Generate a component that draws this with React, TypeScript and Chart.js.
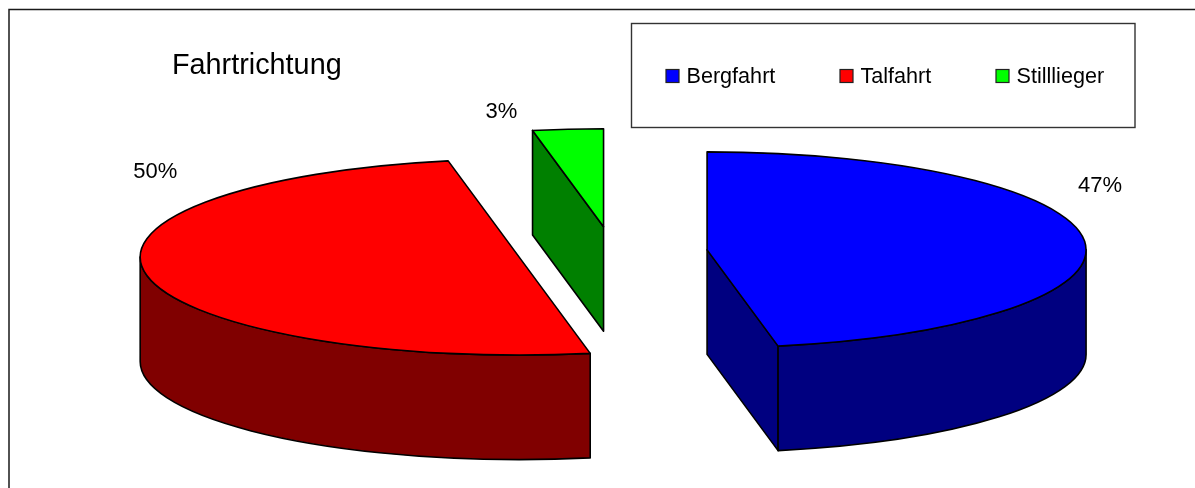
import React, { useEffect, useRef } from "react";
import { Chart, registerables } from "chart.js";

Chart.register(...registerables);

// Share of vessels per direction of travel, in percent.
const categories = ["Bergfahrt", "Talfahrt", "Stilllieger"];
const shares = [47, 50, 3];

const topColors = ["#0000ff", "#ff0000", "#00ff00"];
const sideColors = ["#000080", "#800000", "#008000"];

const WIDTH = 1195;
const HEIGHT = 488;
const FONT = '"Liberation Sans", Arial, sans-serif';

// Projection of the tilted pie: ellipse radii, wall height, explosion distance.
const RADIUS_X = 379;
const RADIUS_Y = 98;
const DEPTH = 104.5;
const EXPLODE_X = 95;
const EXPLODE_Y = 25.7;

// Percent label anchors, relative to each slice's own centre.
const labelShift = [
  [371, -58],
  [-386, -79],
  [-118, -109],
];
const legendSwatchX = [666, 840, 996];

const pie3d = {
  id: "pie3d",
  beforeDatasetDraw(chart: any) {
    const ctx: CanvasRenderingContext2D = chart.ctx;
    const arcs = chart.getDatasetMeta(0).data;
    const total = shares.reduce((a, b) => a + b, 0);

    ctx.save();
    ctx.lineJoin = "round";
    ctx.lineWidth = 1.6;
    ctx.strokeStyle = "#000";

    arcs.forEach((arc: any, i: number) => {
      const { x, y, startAngle: a, endAngle: b } = arc.getProps(["x", "y", "startAngle", "endAngle"], true);
      const mid = (a + b) / 2;
      const cx = x + Math.cos(mid) * EXPLODE_X;
      const cy = y + Math.sin(mid) * EXPLODE_Y;
      const px = (t: number) => cx + Math.cos(t) * RADIUS_X;
      const py = (t: number) => cy + Math.sin(t) * RADIUS_Y;

      ctx.fillStyle = sideColors[i];

      // Cut faces that turn towards the viewer.
      const cutFace = (t: number) => {
        ctx.beginPath();
        ctx.moveTo(cx, cy);
        ctx.lineTo(px(t), py(t));
        ctx.lineTo(px(t), py(t) + DEPTH);
        ctx.lineTo(cx, cy + DEPTH);
        ctx.closePath();
        ctx.fill();
        ctx.stroke();
      };
      if (Math.cos(a) < -1e-6) cutFace(a);
      if (Math.cos(b) > 1e-6) cutFace(b);

      // Outer wall along the front half of the rim.
      const w0 = Math.max(a, 0);
      const w1 = Math.min(b, Math.PI);
      if (w1 > w0) {
        ctx.beginPath();
        ctx.ellipse(cx, cy, RADIUS_X, RADIUS_Y, 0, w0, w1);
        ctx.lineTo(px(w1), py(w1) + DEPTH);
        ctx.ellipse(cx, cy + DEPTH, RADIUS_X, RADIUS_Y, 0, w1, w0, true);
        ctx.closePath();
        ctx.fill();
        ctx.stroke();
      }

      // Top face.
      ctx.fillStyle = topColors[i];
      ctx.beginPath();
      ctx.moveTo(cx, cy);
      ctx.ellipse(cx, cy, RADIUS_X, RADIUS_Y, 0, a, b);
      ctx.closePath();
      ctx.fill();
      ctx.stroke();

      // Percent label.
      ctx.fillStyle = "#000";
      ctx.font = `22px ${FONT}`;
      ctx.textAlign = "left";
      ctx.textBaseline = "alphabetic";
      const pct = Math.round((shares[i] / total) * 100);
      ctx.fillText(`${pct}%`, cx + labelShift[i][0], cy + labelShift[i][1]);
    });
    ctx.restore();
    return false;
  },
  afterDraw(chart: any) {
    const ctx: CanvasRenderingContext2D = chart.ctx;
    ctx.save();

    // Frame running off the right and bottom of the sheet.
    ctx.strokeStyle = "#1a1a1a";
    ctx.lineWidth = 1.5;
    ctx.beginPath();
    ctx.moveTo(9, HEIGHT);
    ctx.lineTo(9, 9.5);
    ctx.lineTo(WIDTH, 9.5);
    ctx.stroke();

    ctx.fillStyle = "#000";
    ctx.textAlign = "left";
    ctx.textBaseline = "alphabetic";
    ctx.font = `28.8px ${FONT}`;
    ctx.fillText("Fahrtrichtung", 172, 74);

    // Legend box.
    ctx.strokeStyle = "#333";
    ctx.lineWidth = 1.4;
    ctx.strokeRect(631.5, 23.5, 503.5, 104);
    ctx.font = `21.6px ${FONT}`;
    categories.forEach((name, i) => {
      const bx = legendSwatchX[i];
      ctx.fillStyle = topColors[i];
      ctx.fillRect(bx, 69.5, 13, 13);
      ctx.strokeStyle = "#222";
      ctx.lineWidth = 1.2;
      ctx.strokeRect(bx, 69.5, 13, 13);
      ctx.fillStyle = "#000";
      ctx.fillText(name, bx + 20.5, 82.7);
    });
    ctx.restore();
  },
};

export default function App() {
  const ref = useRef<HTMLCanvasElement>(null);

  useEffect(() => {
    const chart = new Chart(ref.current!, {
      type: "pie",
      data: {
        labels: categories,
        datasets: [{ data: shares, backgroundColor: topColors }],
      },
      options: {
        animation: false,
        responsive: false,
        devicePixelRatio: 1,
        layout: { padding: { left: 40, right: 10, top: 20, bottom: 3.4 } },
        plugins: {
          legend: { display: false },
          title: { display: false },
          tooltip: { enabled: false },
        },
      },
      plugins: [pie3d],
    } as any);
    return () => chart.destroy();
  }, []);

  return (
    <canvas
      ref={ref}
      width={WIDTH}
      height={HEIGHT}
      style={{ position: "absolute", left: 0, top: 0, background: "#fff" }}
    />
  );
}
